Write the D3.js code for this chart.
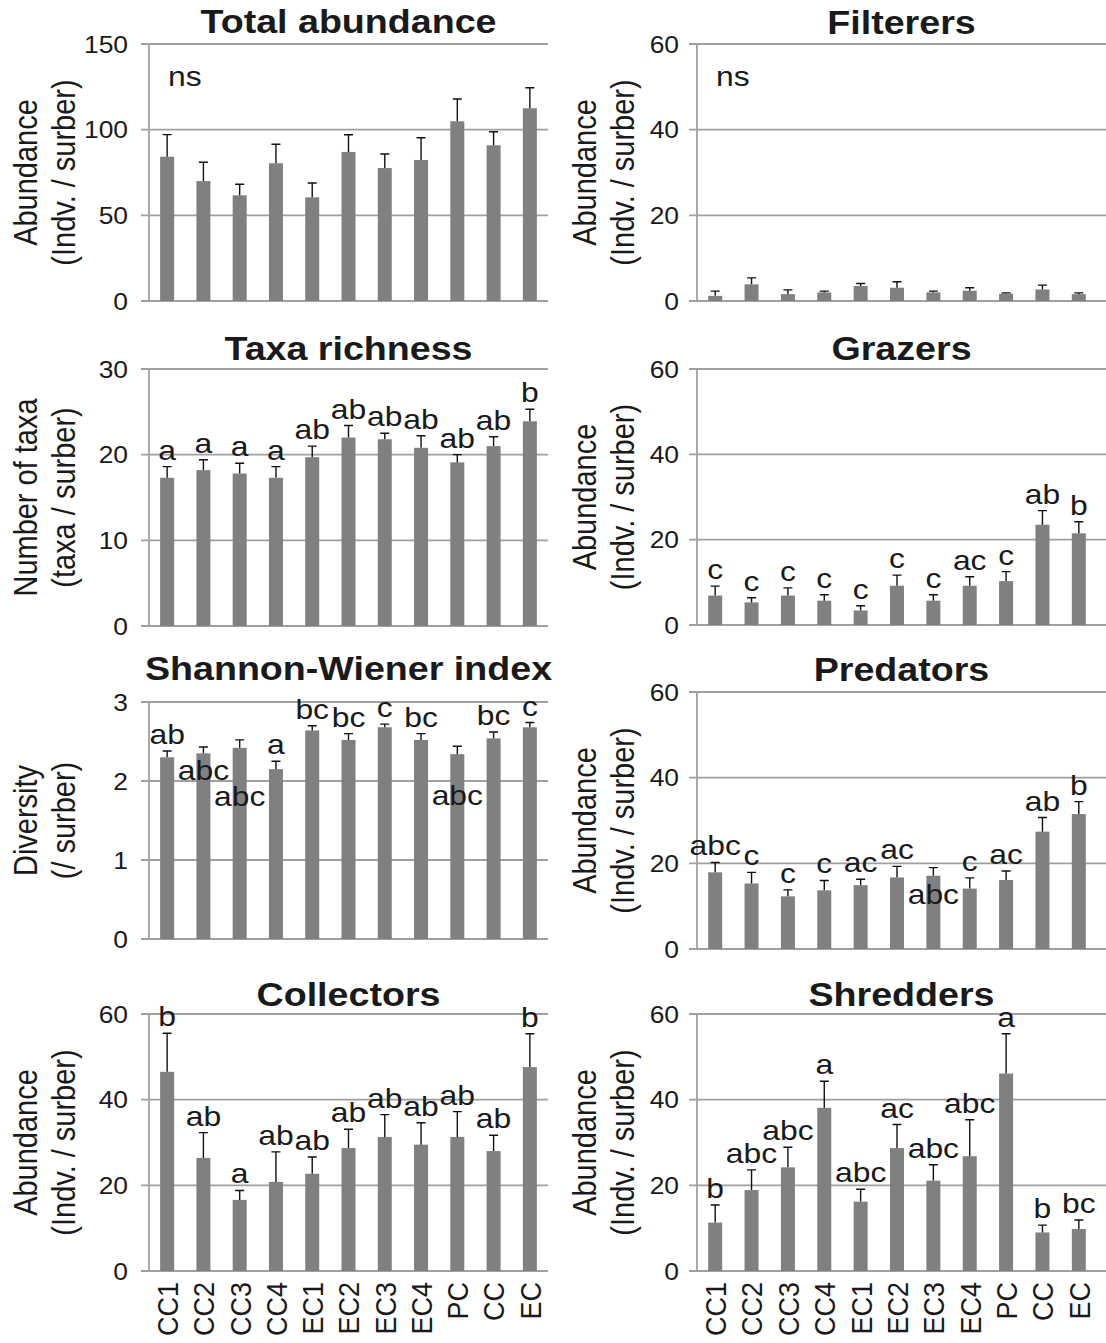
<!DOCTYPE html>
<html>
<head>
<meta charset="utf-8">
<script src="https://cdn.jsdelivr.net/npm/d3@7"></script>
<style>
  body { margin: 0; background: #fff; }
  svg text { font-family: "Liberation Sans", Arial, sans-serif; fill: #1a1a1a; }
</style>
</head>
<body>
<div id="chart"></div>
<script>
var groups = ["CC1", "CC2", "CC3", "CC4", "EC1", "EC2", "EC3", "EC4", "PC", "CC", "EC"];

var totalMean = [84.2, 70.0, 61.7, 80.4, 60.5, 87.0, 77.6, 82.3, 104.9, 90.9, 112.5];
var totalSE = [12.9, 11.0, 6.4, 11.1, 8.4, 10.0, 8.2, 13.0, 13.0, 7.9, 12.0];

var filterMean = [1.2, 3.9, 1.6, 2.0, 3.5, 3.1, 2.0, 2.4, 1.7, 2.7, 1.6];
var filterSE = [1.1, 1.5, 1.0, 0.3, 0.6, 1.4, 0.3, 0.7, 0.2, 1.0, 0.3];

var taxaMean = [17.3, 18.2, 17.8, 17.3, 19.7, 22.0, 21.8, 20.8, 19.1, 21.0, 23.9];
var taxaSE = [1.3, 1.2, 1.2, 1.3, 1.3, 1.4, 0.7, 1.4, 0.9, 1.1, 1.4];
var taxaLetters = ["a", "a", "a", "a", "ab", "ab", "ab", "ab", "ab", "ab", "b"];

var grazerMean = [6.9, 5.3, 6.9, 5.7, 3.4, 9.2, 5.7, 9.2, 10.3, 23.5, 21.5];
var grazerSE = [2.2, 1.1, 1.8, 1.4, 1.1, 2.5, 1.4, 2.1, 2.2, 3.3, 2.7];
var grazerLetters = ["c", "c", "c", "c", "c", "c", "c", "ac", "c", "ab", "b"];

var shannonMean = [2.30, 2.35, 2.42, 2.15, 2.64, 2.52, 2.68, 2.52, 2.34, 2.54, 2.68];
var shannonSE = [0.08, 0.08, 0.10, 0.10, 0.06, 0.08, 0.04, 0.08, 0.10, 0.08, 0.06];
var shannonLetters = ["ab", "abc", "abc", "a", "bc", "bc", "c", "bc", "abc", "bc", "c"];

var predMean = [17.9, 15.3, 12.3, 13.7, 14.9, 16.7, 17.1, 14.1, 16.1, 27.4, 31.5];
var predSE = [2.3, 2.6, 1.5, 2.3, 1.4, 2.6, 1.9, 2.5, 2.1, 3.3, 2.9];
var predLetters = ["abc", "c", "c", "c", "ac", "ac", "abc", "c", "ac", "ab", "b"];

var collMean = [46.5, 26.4, 16.6, 20.8, 22.7, 28.7, 31.3, 29.5, 31.3, 28.0, 47.6];
var collSE = [9.0, 5.9, 2.2, 7.0, 3.9, 4.4, 5.2, 5.1, 5.9, 3.7, 7.8];
var collLetters = ["b", "ab", "a", "ab", "ab", "ab", "ab", "ab", "ab", "ab", "b"];

var shredMean = [11.3, 18.9, 24.2, 38.1, 16.2, 28.7, 21.1, 26.8, 46.1, 9.0, 9.8];
var shredSE = [4.1, 4.7, 4.7, 6.2, 2.9, 5.5, 3.7, 8.5, 9.3, 1.7, 2.1];
var shredLetters = ["b", "abc", "abc", "a", "abc", "ac", "abc", "abc", "a", "b", "bc"];

var abundLabel = ["Abundance", "(Indv. / surber)"];

var panels = [
  {title: "Total abundance", mean: totalMean, se: totalSE, letters: null, ns: true, yMax: 150, step: 50, ylab: abundLabel},
  {title: "Filterers", mean: filterMean, se: filterSE, letters: null, ns: true, yMax: 60, step: 20, ylab: abundLabel},
  {title: "Taxa richness", mean: taxaMean, se: taxaSE, letters: taxaLetters, yMax: 30, step: 10, ylab: ["Number of taxa", "(taxa / surber)"]},
  {title: "Grazers", mean: grazerMean, se: grazerSE, letters: grazerLetters, yMax: 60, step: 20, ylab: abundLabel},
  {title: "Shannon-Wiener index", mean: shannonMean, se: shannonSE, letters: shannonLetters, yMax: 3, step: 1, ylab: ["Diversity", "(/ surber)"]},
  {title: "Predators", mean: predMean, se: predSE, letters: predLetters, yMax: 60, step: 20, ylab: abundLabel},
  {title: "Collectors", mean: collMean, se: collSE, letters: collLetters, yMax: 60, step: 20, ylab: abundLabel, xlab: true},
  {title: "Shredders", mean: shredMean, se: shredSE, letters: shredLetters, yMax: 60, step: 20, ylab: abundLabel, xlab: true}
];

// layout (pixels)
var cols = [
  {axis: 149, x0: 149, x1: 548, gridL: 141, gridR: 548, tickX: 128, lab1: 25, lab2: 63},
  {axis: 697, x0: 697, x1: 1097, gridL: 689, gridR: 1106, tickX: 679, lab1: 584, lab2: 622}
];
var rows = [
  [{top: 44, bottom: 301, tb: 33}, {top: 44, bottom: 301, tb: 34}],
  [{top: 369, bottom: 626, tb: 360}, {top: 369, bottom: 625, tb: 360}],
  [{top: 702, bottom: 939, tb: 680}, {top: 692, bottom: 949, tb: 681}],
  [{top: 1014, bottom: 1271, tb: 1006}, {top: 1014, bottom: 1271, tb: 1006}]
];
// manual letter offsets (px) where the original label sits below the bar top
var letterShift = {4: {1: 40, 2: 73, 8: 66}, 5: {6: 43}};

var svg = d3.select("#chart").append("svg")
    .attr("width", 1106)
    .attr("height", 1343);

// text that is a little wider than the font, like the source figure
function wideText(sel, x, y, sx) {
  return sel.attr("transform", "translate(" + x + "," + y + ") scale(" + sx + ",1)");
}

panels.forEach(function (p, i) {
  var c = cols[i % 2];
  var r = rows[Math.floor(i / 2)][i % 2];
  var g = svg.append("g");

  var x = d3.scaleBand().domain(groups).range([c.x0, c.x1]);
  var y = d3.scaleLinear().domain([0, p.yMax]).range([r.bottom, r.top]);
  var ticks = d3.range(0, p.yMax + p.step / 2, p.step);
  var cx = function (j) { return x(groups[j]) + x.bandwidth() / 2; };

  // gridlines
  g.selectAll(".grid").data(ticks).enter().append("line")
      .attr("x1", c.gridL).attr("x2", c.gridR)
      .attr("y1", function (d) { return y(d); })
      .attr("y2", function (d) { return y(d); })
      .attr("stroke", "#a0a0a0").attr("stroke-width", 1.8);

  g.append("line")
      .attr("x1", c.axis).attr("x2", c.axis)
      .attr("y1", r.top).attr("y2", r.bottom)
      .attr("stroke", "#a0a0a0").attr("stroke-width", 1.8);

  g.selectAll(".tick").data(ticks).enter().append("text")
      .attr("transform", function (d) { return "translate(" + c.tickX + "," + y(d) + ") scale(1.1,1)"; })
      .attr("dy", "0.36em")
      .attr("text-anchor", "end")
      .style("font-size", "24px")
      .text(function (d) { return d; });

  // bars
  var bw = 14;
  var idx = d3.range(groups.length);
  g.selectAll(".bar").data(idx).enter().append("rect")
      .attr("x", function (j) { return cx(j) - bw / 2; })
      .attr("y", function (j) { return y(p.mean[j]); })
      .attr("width", bw)
      .attr("height", function (j) { return y(0) - y(p.mean[j]); })
      .attr("fill", "#808080");

  // error bars (upper only)
  g.selectAll(".err").data(idx).enter().append("path")
      .attr("d", function (j) {
        var t = y(p.mean[j] + p.se[j]);
        return "M" + cx(j) + "," + y(p.mean[j]) + "V" + t + "M" + (cx(j) - 4.5) + "," + t + "H" + (cx(j) + 4.5);
      })
      .attr("stroke", "#111").attr("stroke-width", 1.4).attr("fill", "none");

  if (p.letters) {
    var shifts = letterShift[i] || {};
    g.selectAll(".let").data(idx).enter().append("text")
        .attr("transform", function (j) {
          var ly = y(p.mean[j] + p.se[j]) - 7 + (shifts[j] || 0);
          return "translate(" + cx(j) + "," + ly + ") scale(1.18,1)";
        })
        .attr("text-anchor", "middle")
        .style("font-size", "27px")
        .text(function (j) { return p.letters[j]; });
  }

  if (p.ns) {
    wideText(g.append("text"), c.axis + 19, 86, 1.18)
        .style("font-size", "27px")
        .text("ns");
  }

  // title
  wideText(g.append("text"), (c.x0 + c.gridR) / 2, r.tb, 1.14)
      .attr("text-anchor", "middle")
      .style("font-size", "33px").style("font-weight", "bold")
      .text(p.title);

  // y axis label (two lines)
  var mid = (r.top + r.bottom) / 2;
  [c.lab1, c.lab2].forEach(function (lx, k) {
    g.append("text")
        .attr("transform", "translate(" + lx + "," + mid + ") rotate(-90) scale(1,1.12)")
        .attr("dy", "0.36em")
        .attr("text-anchor", "middle")
        .style("font-size", "29px")
        .text(p.ylab[k]);
  });

  if (p.xlab) {
    g.selectAll(".xl").data(groups).enter().append("text")
        .attr("transform", function (d) {
          return "translate(" + (x(d) + x.bandwidth() / 2) + "," + (r.bottom + 11) + ") rotate(-90) scale(1,1.12)";
        })
        .attr("dy", "0.36em")
        .attr("text-anchor", "end")
        .style("font-size", "27px")
        .text(function (d) { return d; });
  }
});
</script>
</body>
</html>
